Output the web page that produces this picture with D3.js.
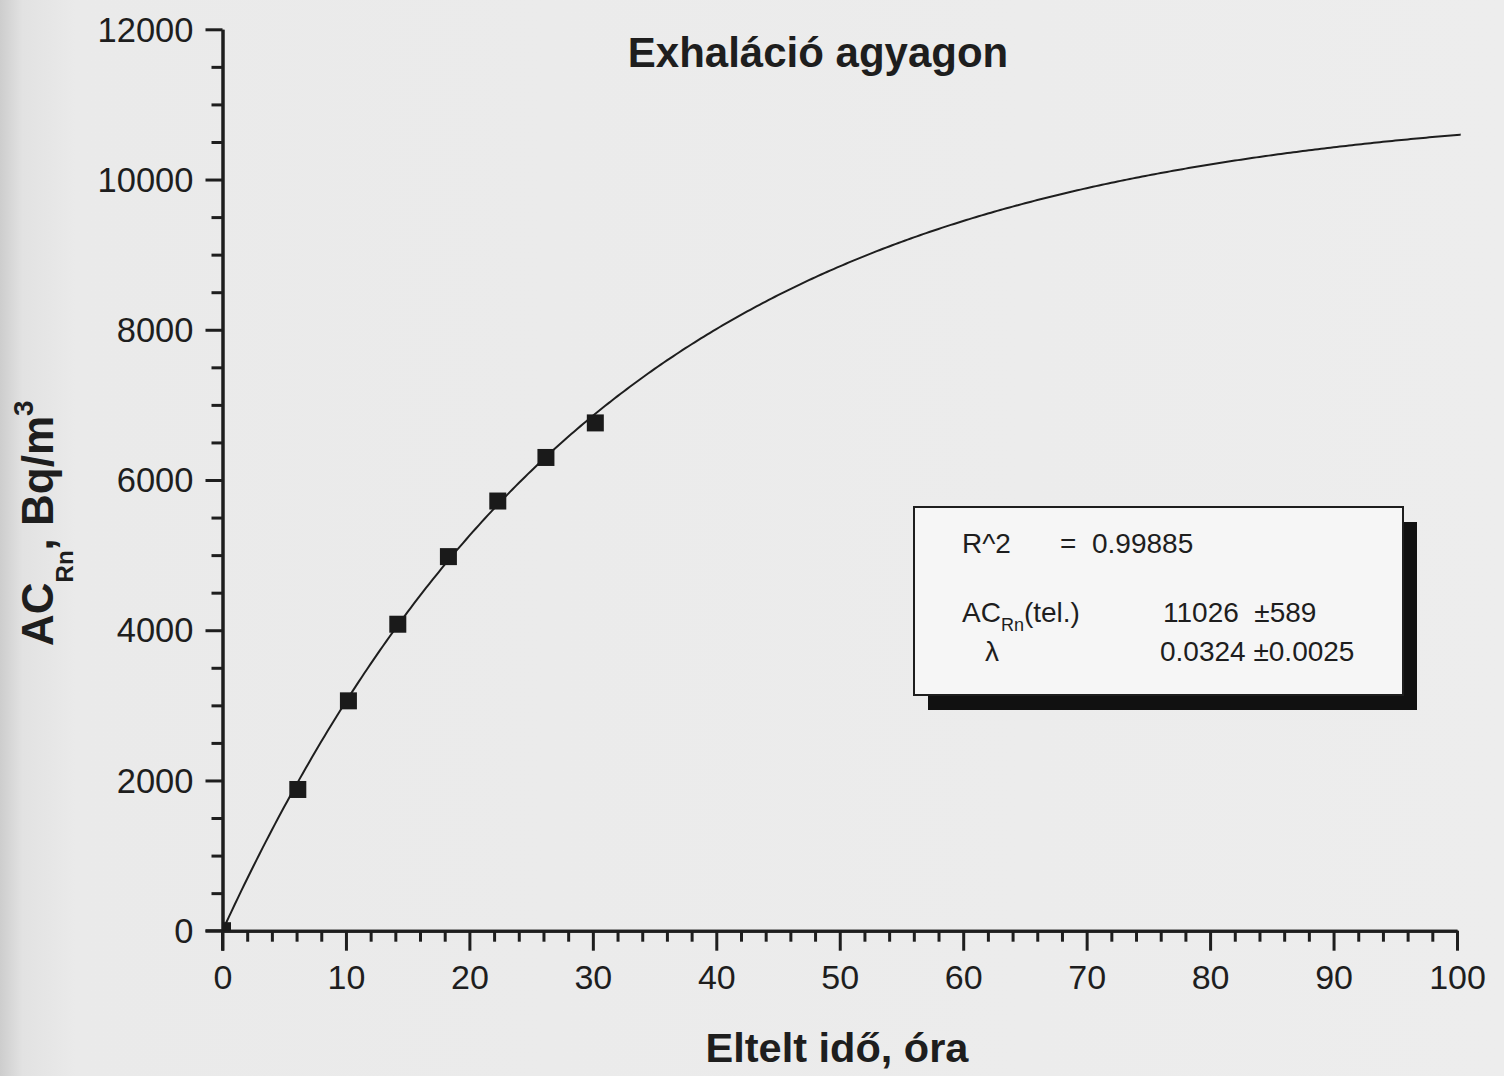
<!DOCTYPE html>
<html>
<head>
<meta charset="utf-8">
<script src="https://cdn.jsdelivr.net/npm/d3@7"></script>
<style>
  html, body { margin: 0; padding: 0; background: #ebebeb; }
  svg { display: block; font-family: "Liberation Sans", Arial, sans-serif; }
</style>
</head>
<body>
<svg id="chart" width="1504" height="1076"></svg>
<script>
// Measured radon activity concentration vs. elapsed time
const timeHours = [0, 6.1, 10.2, 14.2, 18.3, 22.3, 26.2, 30.2];
const activity  = [0, 1880, 3060, 4080, 4980, 5720, 6300, 6760];

// Fitted saturation curve parameters (shown in the results box)
const fitR2 = "0.99885";
const fitACtel = 11026, fitACtelErr = 589;
const fitLambda = 0.0324, fitLambdaErr = 0.0025;

// Axis tick labels
const xTicks = [0, 10, 20, 30, 40, 50, 60, 70, 80, 90, 100];
const yTicks = [0, 2000, 4000, 6000, 8000, 10000, 12000];

const ink = "#1e1e1e";
const svg = d3.select("#chart");

// paper tone with a slightly darker scanner edge on the left
const defs = svg.append("defs");
const grad = defs.append("linearGradient").attr("id", "paper").attr("x1", 0).attr("x2", 1).attr("y1", 0).attr("y2", 0);
grad.append("stop").attr("offset", 0).attr("stop-color", "#cdcdcd");
grad.append("stop").attr("offset", 0.015).attr("stop-color", "#e2e2e2");
grad.append("stop").attr("offset", 0.05).attr("stop-color", "#eaeaea");
grad.append("stop").attr("offset", 1).attr("stop-color", "#ededed");
svg.append("rect").attr("width", 1504).attr("height", 1076).attr("fill", "url(#paper)");

const x = d3.scaleLinear().domain([0, 100]).range([222.5, 1457]);
const y = d3.scaleLinear().domain([0, 12000]).range([930.7, 29.3]);

defs.append("clipPath").attr("id", "plotClip")
  .append("rect").attr("x", x(0)).attr("y", 0).attr("width", 1504 - x(0)).attr("height", y(0));

// minor ticks
const xMinor = d3.range(0, 101, 2).filter(v => v % 10 !== 0);
const yMinor = d3.range(0, 12001, 500).filter(v => v % 2000 !== 0);

const xAxisG = svg.append("g").attr("transform", `translate(0,${y(0)})`);
xAxisG.append("g").call(d3.axisBottom(x).tickValues(xMinor).tickSize(11).tickSizeOuter(0).tickFormat(""));
xAxisG.append("g").call(d3.axisBottom(x).tickValues(xTicks).tickSize(20).tickSizeOuter(0).tickPadding(14).tickFormat(d3.format("d")));

const yAxisG = svg.append("g").attr("transform", `translate(${x(0)},0)`);
yAxisG.append("g").call(d3.axisLeft(y).tickValues(yMinor).tickSize(11).tickSizeOuter(0).tickFormat(""));
yAxisG.append("g").call(d3.axisLeft(y).tickValues(yTicks).tickSize(17).tickSizeOuter(0).tickPadding(12).tickFormat(d3.format("d")));

svg.selectAll(".domain").attr("stroke", ink).attr("stroke-width", 3);
svg.selectAll(".tick line").attr("stroke", ink).attr("stroke-width", 3);
xAxisG.selectAll(".tick text").attr("font-size", 34).attr("fill", ink);
yAxisG.selectAll(".tick text").attr("font-size", 34.5).attr("fill", ink).attr("dy", "0.34em");

// extend y axis through the x-axis zero tick
svg.append("line").attr("x1", x(0)).attr("x2", x(0)).attr("y1", y(0)).attr("y2", y(0) + 20)
  .attr("stroke", ink).attr("stroke-width", 3);
svg.append("line").attr("x1", x(0) - 17).attr("x2", x(0)).attr("y1", y(0)).attr("y2", y(0))
  .attr("stroke", ink).attr("stroke-width", 3);

// fitted curve AC(t) = AC_tel * (1 - exp(-lambda t))
const tFit = d3.range(0, 100.3, 0.25).concat([100.3]);
const line = d3.line().x(d => x(d)).y(d => y(fitACtel * (1 - Math.exp(-fitLambda * d))));
svg.append("path").datum(tFit).attr("d", line).attr("fill", "none").attr("stroke", ink).attr("stroke-width", 2);

// measured points
const pts = timeHours.map((t, i) => ({ t, v: activity[i] }));
const s = 17;
svg.append("g").attr("clip-path", "url(#plotClip)").selectAll("rect").data(pts).join("rect")
  .attr("x", d => x(d.t) - s / 2).attr("y", d => y(d.v) - s / 2)
  .attr("width", s).attr("height", s).attr("fill", "#1a1a1a");

// title
svg.append("text").attr("x", 818).attr("y", 67).attr("text-anchor", "middle")
  .attr("font-size", 42).attr("font-weight", "bold").attr("fill", ink).text("Exhaláció agyagon");

// x axis title
svg.append("text").attr("x", 837).attr("y", 1062).attr("text-anchor", "middle")
  .attr("font-size", 41.5).attr("font-weight", "bold").attr("fill", ink).text("Eltelt idő, óra");

// y axis title
const yt = svg.append("text").attr("transform", "translate(53,646) rotate(-90)")
  .attr("font-size", 44).attr("font-weight", "bold").attr("fill", ink);
yt.append("tspan").text("AC");
yt.append("tspan").attr("font-size", 24).attr("dy", 20).text("Rn");
yt.append("tspan").attr("dy", -20).text(", Bq/m");
yt.append("tspan").attr("font-size", 28).attr("dy", -20).text("3");

// results box with drop shadow
const bx = 914, by = 507, bw = 489, bh = 188;
svg.append("rect").attr("x", bx + 14).attr("y", by + 15).attr("width", bw).attr("height", bh).attr("fill", "#111");
svg.append("rect").attr("x", bx).attr("y", by).attr("width", bw).attr("height", bh)
  .attr("fill", "#f6f6f6").attr("stroke", ink).attr("stroke-width", 2);

const boxText = svg.append("g").attr("font-size", 28).attr("fill", ink);
boxText.append("text").attr("x", 962).attr("y", 553).text("R^2");
boxText.append("text").attr("x", 1060).attr("y", 553).text("=");
boxText.append("text").attr("x", 1092).attr("y", 553).text(fitR2);

const acl = boxText.append("text").attr("x", 962).attr("y", 622);
acl.append("tspan").text("AC");
acl.append("tspan").attr("font-size", 18).attr("dy", 9).text("Rn");
acl.append("tspan").attr("dy", -9).text("(tel.)");
boxText.append("text").attr("x", 1163).attr("y", 622).attr("xml:space", "preserve")
  .text(`${fitACtel}  ±${fitACtelErr}`);

boxText.append("text").attr("x", 985).attr("y", 661).text("λ");
boxText.append("text").attr("x", 1160).attr("y", 661)
  .text(`${fitLambda} ±${fitLambdaErr}`);
</script>
</body>
</html>
